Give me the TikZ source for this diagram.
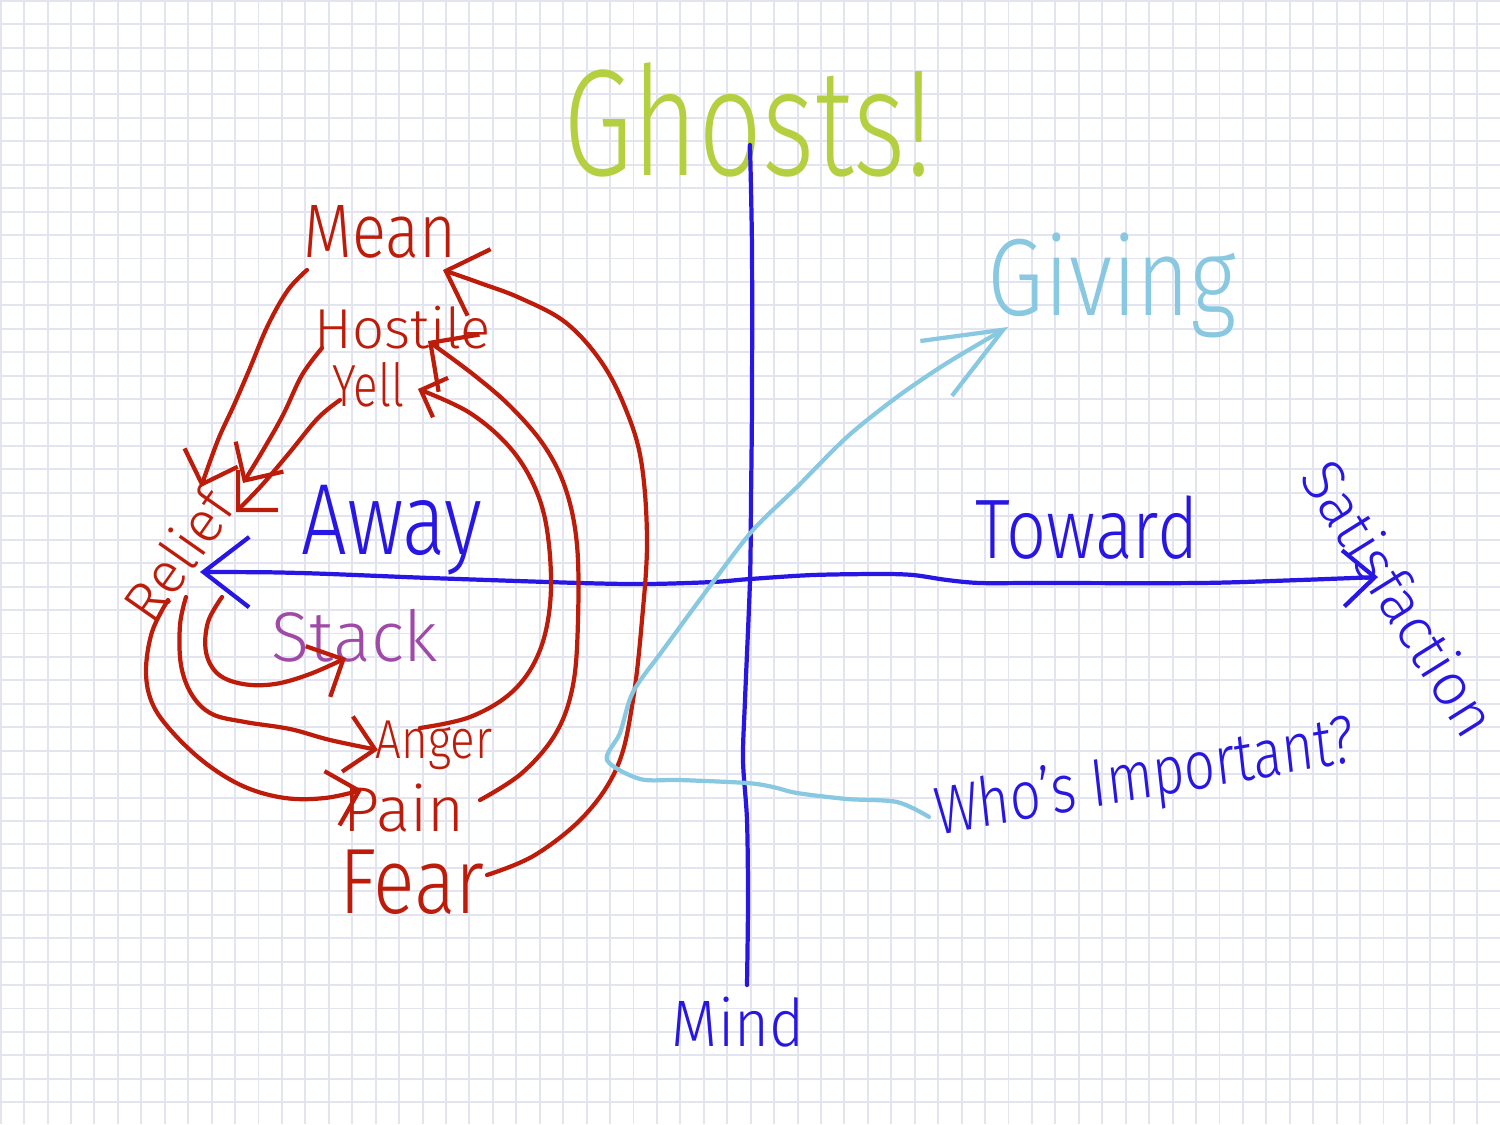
\documentclass[tikz,border=0pt]{standalone}
\usepackage{fontspec}
\setmainfont{Fira Sans}[UprightFont={* Light}]
\usetikzlibrary{arrows.meta}
\definecolor{gridc}{RGB}{226,228,240}
\definecolor{redc}{RGB}{190,28,10}
\definecolor{bluec}{RGB}{40,22,228}
\definecolor{lbluec}{RGB}{136,200,224}
\definecolor{greenc}{RGB}{180,208,64}
\definecolor{purplec}{RGB}{160,74,168}
\newcommand\handsz[1]{\fontsize{#1}{#1}\selectfont}
\begin{document}
\begin{tikzpicture}[x=0.01cm,y=-0.01cm,
  pen/.style={line width=1.2pt, line cap=round, line join=round},
  redpen/.style={pen, draw=redc},
  bluepen/.style={pen, draw=bluec},
  lbluepen/.style={pen, draw=lbluec},
  hand/.style={inner sep=0pt, outer sep=0pt, anchor=center},
  barbL/.style={-{Straight Barb[length=10pt,width=20pt]}},
  barbM/.style={-{Straight Barb[length=8pt,width=16pt]}},
  barbS/.style={-{Straight Barb[length=6pt,width=12pt]}},
  gridline/.style={draw=gridc, line width=0.55pt}
]
\useasboundingbox (0,0) rectangle (1500,1124);
\fill[white] (0,0) rectangle (1500,1124);
\foreach \i in {0,...,64} \draw[gridline] ({0.7+23.4375*\i},0) -- ({0.7+23.4375*\i},1124);
\foreach \j in {0,...,48} \draw[gridline] (0,{0.7+23.4375*\j}) -- (1500,{0.7+23.4375*\j});

% ---- texts ----
\node[hand, text=greenc, font=\handsz{32}, yscale=1.35, transform shape] (ghosts) at (748,120) {Ghosts!};
\node[hand, text=redc, font=\handsz{18}, yscale=1.2, transform shape] (mean) at (380,232) {Mean};
\node[hand, text=redc, font=\handsz{16}] (hostile) at (403,328) {Hostile};
\node[hand, text=redc, font=\handsz{13}, yscale=1.3, transform shape] (yell) at (368,385) {Yell};
\node[hand, text=redc, font=\handsz{16.5}, rotate=55] (relief) at (178,555) {Relief};
\node[hand, text=bluec, font=\handsz{23}, yscale=1.25, transform shape] (away) at (392,530) {Away};
\node[hand, text=purplec, font=\handsz{20}] (stack) at (355,636) {Stack};
\node[hand, text=redc, font=\handsz{13}, yscale=1.2, transform shape] (anger) at (434,745) {Anger};
\node[hand, text=redc, font=\handsz{18}] (pain) at (404,808) {Pain};
\node[hand, text=redc, font=\handsz{22}, yscale=1.2, transform shape] (fear) at (412,882) {Fear};
\node[hand, text=bluec, font=\handsz{20}, yscale=1.2, transform shape] (toward) at (1087,528) {Toward};
\node[hand, text=lbluec, font=\handsz{26}, yscale=1.2, transform shape] (giving) at (1112,285) {Giving};
\node[hand, text=bluec, font=\handsz{17}, rotate=-58] (satisf) at (1400,598) {Satisfaction};
\node[hand, text=bluec, font=\handsz{15.5}, yscale=1.25, rotate=8, transform shape] (whos) at (1145,780) {Who's Important?};
\node[hand, text=bluec, font=\handsz{17}, yscale=1.1, transform shape] (mind) at (738,1022) {Mind};

% ---- axes ----
\coordinate (axL) at (200,572);
\coordinate (axR) at (1378,577);
\coordinate (axT) at (750,145);
\coordinate (axB) at (747,985);
\draw[bluepen, {Straight Barb[length=13pt,width=20pt]}-{Straight Barb[length=9pt,width=16pt]}]
  plot[smooth, tension=0.5] coordinates {(axL) (300,573) (430,578) (580,583) (647,584) (713,582) (750,579) (813,575) (880,574) (913,575) (947,580) (980,583) (1040,583) (1200,583) (1300,580) (axR)};
\draw[bluepen] plot[smooth, tension=0.5] coordinates {(axT) (752,250) (752,400) (751,500) (750,580) (745,700) (743,760) (747,820) (748,900) (axB)};

% ---- red connectors ----
\coordinate (fearOut) at (487,875);
\coordinate (hostTipA) at (443,270);
\draw[redpen, barbL] plot[smooth, tension=0.6] coordinates {(fearOut) (535,855) (585,815) (618,765) (633,700) (642,620) (647,540) (641,460) (624,405) (600,360) (565,322) (520,298) (480,283) (hostTipA)};

\coordinate (painOut) at (480,800);
\coordinate (hostTipB) at (428,341);
\draw[redpen, barbL] plot[smooth, tension=0.6] coordinates {(painOut) (522,773) (556,733) (573,685) (578,620) (577,545) (566,490) (545,447) (512,408) (474,375) (hostTipB)};

\coordinate (angerOut) at (420,728);
\coordinate (yellTip) at (418,389);
\draw[redpen, barbS] plot[smooth, tension=0.6] coordinates {(angerOut) (470,717) (512,692) (538,655) (550,605) (549,545) (538,495) (512,450) (470,413) (yellTip)};

\coordinate (meanOut) at (307,270);
\coordinate (relTipA) at (201,487);
\draw[redpen, barbM] plot[smooth, tension=0.6] coordinates {(meanOut) (288,290) (268,325) (250,368) (234,405) (218,440) (relTipA)};

\coordinate (hostOut) at (322,348);
\coordinate (relTipB) at (243,483);
\draw[redpen, barbM] plot[smooth, tension=0.6] coordinates {(hostOut) (302,375) (283,415) (262,452) (relTipB)};

\coordinate (yellOut) at (340,400);
\coordinate (relTipC) at (236,512);
\draw[redpen, barbM] plot[smooth, tension=0.6] coordinates {(yellOut) (318,418) (290,452) (262,485) (relTipC)};

\coordinate (relOutA) at (222,597);
\coordinate (stackTip) at (346,658);
\draw[redpen, barbM] plot[smooth, tension=0.6] coordinates {(relOutA) (208,622) (206,652) (218,674) (243,684) (275,684) (310,674) (stackTip)};

\coordinate (relOutB) at (186,597);
\coordinate (angerTip) at (378,750);
\draw[redpen, barbM] plot[smooth, tension=0.6] coordinates {(relOutB) (180,625) (181,665) (192,695) (212,714) (245,722) (290,729) (330,740) (angerTip)};

\coordinate (relOutC) at (168,600);
\coordinate (painTip) at (362,790);
\draw[redpen, barbM] plot[smooth, tension=0.6] coordinates {(relOutC) (152,632) (146,672) (153,705) (175,735) (208,765) (245,787) (285,798) (325,798) (painTip)};

% ---- light blue connector ----
\coordinate (giveTip) at (1008,327);
\draw[lbluepen, -{Straight Barb[length=22pt,width=18pt]}] plot[smooth, tension=0.5] coordinates {([shift={(-6,0)}]whos.west) (897,802) (847,799) (797,793) (773,787) (747,783) (680,780) (640,779) (607,760) (620,733) (633,692) (663,650) (713,582) (753,530) (797,487) (847,437) (897,397) (947,363) (giveTip)};
\end{tikzpicture}
\end{document}
